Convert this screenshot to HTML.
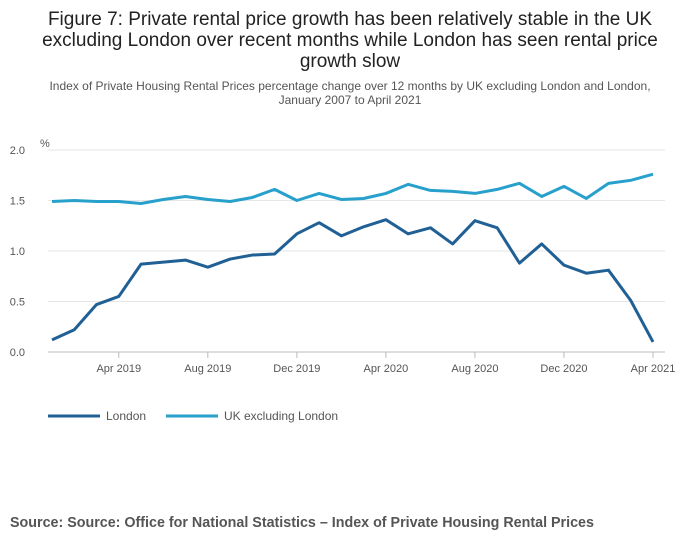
<!DOCTYPE html>
<html><head><meta charset="utf-8"><style>
body{margin:0;background:#fff;font-family:"Liberation Sans","DejaVu Sans",sans-serif;}
#wrap{position:relative;width:700px;height:549px;overflow:hidden;}
</style></head><body>
<div id="wrap">
<svg id="chart" width="700" height="549">
<text x="350" y="25" text-anchor="middle" font-size="19" fill="#222"><tspan x="350">Figure 7: Private rental price growth has been relatively stable in the UK</tspan><tspan x="350" dy="21">excluding London over recent months while London has seen rental price</tspan><tspan x="350" dy="21">growth slow</tspan></text>
<text x="350" y="90" text-anchor="middle" font-size="12" fill="#555"><tspan x="350">Index of Private Housing Rental Prices percentage change over 12 months by UK excluding London and London,</tspan><tspan x="350" dy="14">January 2007 to April 2021</tspan></text>
<text x="40" y="147" font-size="11" fill="#555">%</text>
<g id="grid"></g><g id="series"></g>
<g>
<line x1="48" y1="416" x2="100" y2="416" stroke="#206095" stroke-width="3"/>
<text x="106" y="420" font-size="12" fill="#555">London</text>
<line x1="166" y1="416" x2="218" y2="416" stroke="#27a0cc" stroke-width="3"/>
<text x="224" y="420" font-size="12" fill="#555">UK excluding London</text>
</g>
<text x="10" y="527" font-size="14.3" font-weight="bold" fill="#555">Source: Source: Office for National Statistics – Index of Private Housing Rental Prices</text>
</svg></div>
<script>
const months = ["Jan 2019","Feb 2019","Mar 2019","Apr 2019","May 2019","Jun 2019","Jul 2019","Aug 2019","Sep 2019","Oct 2019","Nov 2019","Dec 2019","Jan 2020","Feb 2020","Mar 2020","Apr 2020","May 2020","Jun 2020","Jul 2020","Aug 2020","Sep 2020","Oct 2020","Nov 2020","Dec 2020","Jan 2021","Feb 2021","Mar 2021","Apr 2021"];
const london = [0.12,0.22,0.47,0.55,0.87,0.89,0.91,0.84,0.92,0.96,0.97,1.17,1.28,1.15,1.24,1.31,1.17,1.23,1.07,1.30,1.23,0.88,1.07,0.86,0.78,0.81,0.51,0.10];
const ukExLondon = [1.49,1.50,1.49,1.49,1.47,1.51,1.54,1.51,1.49,1.53,1.61,1.50,1.57,1.51,1.52,1.57,1.66,1.60,1.59,1.57,1.61,1.67,1.54,1.64,1.52,1.67,1.70,1.76];
const yTicks = [0,0.5,1,1.5,2];
const yTickLabels = ["0.0","0.5","1.0","1.5","2.0"];
const xTickIdx = [3,7,11,15,19,23,27];
const xTickLabels = ["Apr 2019","Aug 2019","Dec 2019","Apr 2020","Aug 2020","Dec 2020","Apr 2021"];
const NS="http://www.w3.org/2000/svg";
const x0=52,x1=653,yTop=150,yBot=352;
const xs=i=>x0+(x1-x0)*i/(months.length-1);
const ys=v=>yBot-(yBot-yTop)*v/2;
const grid=document.getElementById('grid'),ser=document.getElementById('series');
function mk(tag,a,p){const e=document.createElementNS(NS,tag);for(const k in a)e.setAttribute(k,a[k]);p.appendChild(e);return e;}
yTicks.forEach((v,i)=>{
 const l=mk('line',{x1:48,x2:665,y1:ys(v),y2:ys(v),stroke:i===0?'#bbb':'#e6e6e6'},grid);
 
 
 const t=mk('text',{x:25,y:ys(v)+4,'font-size':11,fill:'#555','text-anchor':'end'},grid);
 t.textContent=yTickLabels[i];
 
 
});
xTickIdx.forEach((idx,i)=>{
 const l=mk('line',{x1:xs(idx),x2:xs(idx),y1:yBot,y2:yBot+6,stroke:'#bbb'},grid);
 
 
 const t=mk('text',{x:xs(idx),y:yBot+20,'font-size':11,fill:'#555','text-anchor':'middle'},grid);
 t.textContent=xTickLabels[i];
 
 
});
function line(data,color,name){
 const p=mk('polyline',{points:data.map((v,i)=>xs(i)+','+ys(v)).join(' '),fill:'none',stroke:color,'stroke-width':3,'stroke-linejoin':'round'},ser);
 
 
}
line(ukExLondon,'#27a0cc','uk-excluding-london-line');
line(london,'#206095','london-line');
</script>
</body></html>
